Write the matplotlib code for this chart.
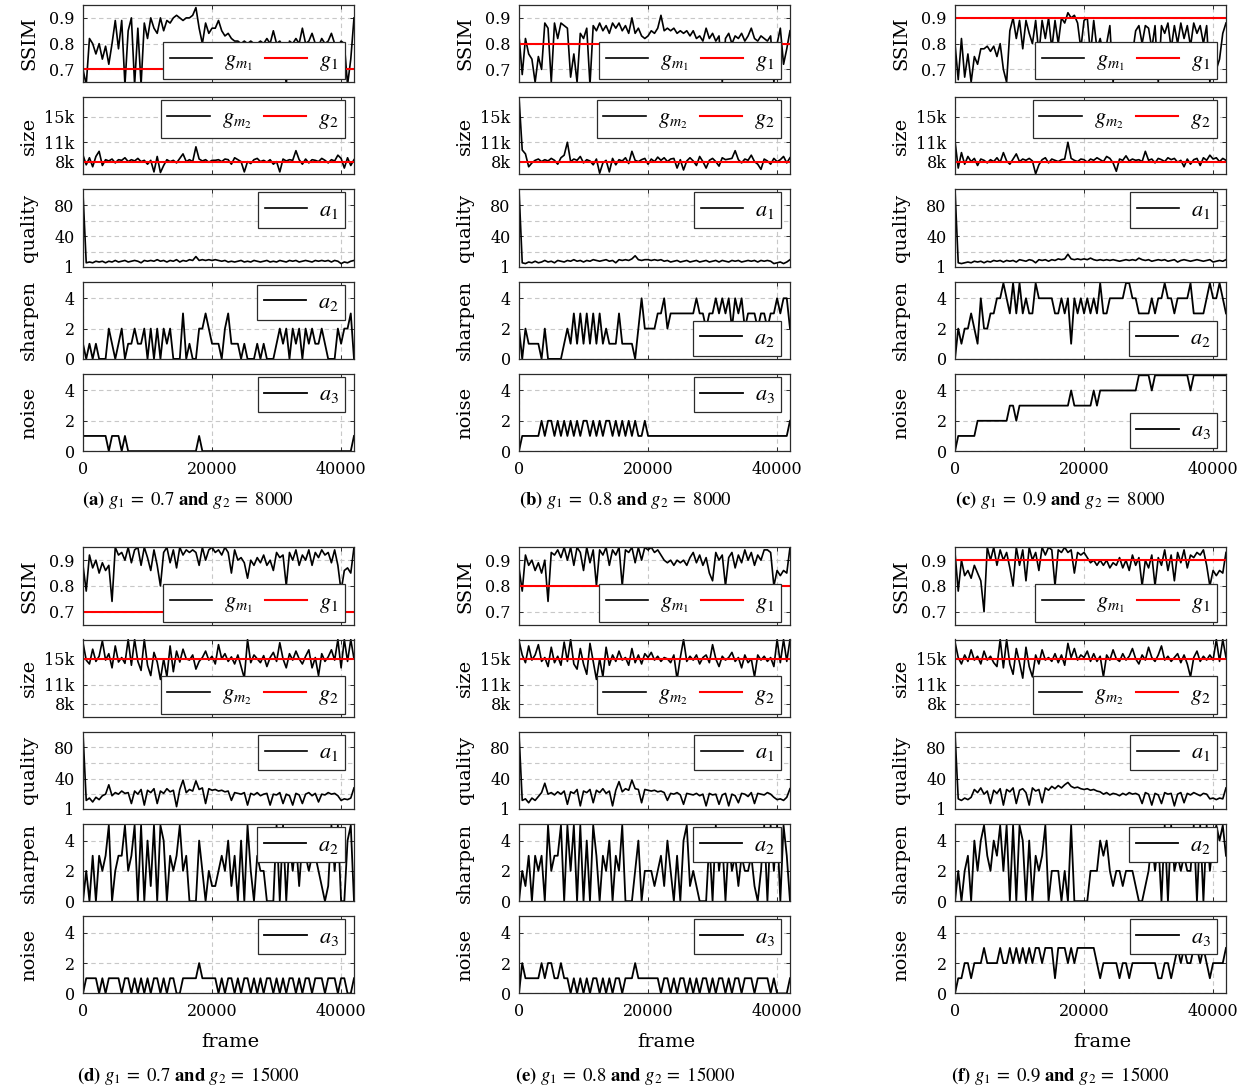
import numpy as np
import matplotlib
matplotlib.use("Agg")
import matplotlib.pyplot as plt

plt.rcParams['font.family'] = 'DejaVu Serif'
plt.rcParams['mathtext.fontset'] = 'stix'

# frame index of every sample (one sample every 500 frames)
FRAMES = np.arange(0, 42001, 500)

# ---- (a) g1 = 0.7, g2 = 8000 ----
A_SSIM = [0.70, 0.64, 0.82, 0.80, 0.76, 0.80, 0.74, 0.79, 0.72, 0.80,
          0.89, 0.78, 0.89, 0.64, 0.85, 0.90, 0.64, 0.86, 0.64, 0.88,
          0.82, 0.90, 0.86, 0.84, 0.90, 0.85, 0.89, 0.88, 0.90, 0.91,
          0.90, 0.89, 0.90, 0.90, 0.91, 0.94, 0.86, 0.80, 0.88, 0.84,
          0.86, 0.86, 0.89, 0.85, 0.83, 0.84, 0.82, 0.81, 0.81, 0.80,
          0.81, 0.80, 0.81, 0.80, 0.80, 0.81, 0.80, 0.82, 0.80, 0.85,
          0.80, 0.81, 0.79, 0.64, 0.81, 0.80, 0.82, 0.80, 0.86, 0.80,
          0.81, 0.84, 0.80, 0.79, 0.82, 0.80, 0.81, 0.84, 0.80, 0.79,
          0.81, 0.80, 0.64, 0.74, 0.90]
A_SIZE = [9.0, 7.5, 8.6, 7.2, 8.8, 9.6, 7.4, 8.3, 8.1, 8.4,
          7.8, 8.3, 8.2, 8.6, 8.0, 8.3, 8.1, 8.5, 8.0, 8.2,
          7.6, 8.2, 6.4, 8.8, 6.3, 7.4, 8.3, 8.0, 8.2, 7.8,
          8.5, 9.2, 8.0, 8.3, 8.0, 10.3, 8.4, 8.1, 8.3, 7.9,
          8.2, 8.2, 8.3, 8.0, 8.4, 8.3, 7.6, 8.6, 8.3, 8.0,
          6.4, 8.0, 7.7, 8.3, 8.5, 8.0, 8.2, 7.9, 8.3, 7.6,
          8.0, 6.4, 8.4, 8.1, 8.3, 8.2, 9.7, 8.3, 7.6, 8.4,
          7.8, 8.3, 8.2, 8.0, 8.5, 8.2, 7.8, 8.3, 8.1, 9.0,
          8.5, 7.0, 8.6, 7.4, 8.3]
A_QUALITY = [95, 6, 7, 6, 8, 7, 8, 6, 8, 7,
             9, 7, 8, 9, 7, 8, 9, 8, 6, 9,
             8, 9, 8, 10, 8, 9, 7, 9, 8, 10,
             7, 9, 8, 10, 9, 14, 9, 10, 9, 10,
             9, 10, 9, 8, 9, 7, 8, 7, 8, 9,
             7, 8, 7, 9, 8, 7, 8, 9, 7, 8,
             7, 9, 8, 7, 9, 8, 9, 7, 8, 9,
             8, 7, 9, 8, 9, 8, 9, 7, 9, 8,
             5, 7, 6, 8, 9]
A_SHARPEN = [1, 0, 1, 0, 1, 0, 0, 0, 2, 1,
             0, 1, 2, 0, 1, 1, 2, 1, 1, 2,
             0, 2, 0, 2, 0, 2, 1, 2, 0, 0,
             0, 3, 0, 1, 0, 0, 2, 2, 3, 2,
             1, 1, 1, 0, 2, 3, 1, 1, 1, 0,
             1, 0, 0, 0, 1, 0, 1, 0, 0, 0,
             1, 2, 1, 2, 0, 2, 1, 2, 0, 2,
             1, 2, 1, 1, 2, 1, 0, 0, 0, 2,
             1, 2, 2, 3, 0]
A_NOISE = [1, 1, 1, 1, 1, 1, 1, 1, 0, 1,
           1, 1, 0, 1, 0, 0, 0, 0, 0, 0,
           0, 0, 0, 0, 0, 0, 0, 0, 0, 0,
           0, 0, 0, 0, 0, 0, 1, 0, 0, 0,
           0, 0, 0, 0, 0, 0, 0, 0, 0, 0,
           0, 0, 0, 0, 0, 0, 0, 0, 0, 0,
           0, 0, 0, 0, 0, 0, 0, 0, 0, 0,
           0, 0, 0, 0, 0, 0, 0, 0, 0, 0,
           0, 0, 0, 0, 1]

# ---- (b) g1 = 0.8, g2 = 8000 ----
B_SSIM = [0.83, 0.68, 0.82, 0.76, 0.74, 0.65, 0.75, 0.70, 0.88, 0.86,
          0.65, 0.88, 0.82, 0.88, 0.87, 0.86, 0.67, 0.76, 0.65, 0.84,
          0.82, 0.86, 0.64, 0.87, 0.85, 0.88, 0.85, 0.87, 0.84, 0.88,
          0.86, 0.88, 0.85, 0.87, 0.84, 0.90, 0.84, 0.86, 0.83, 0.82,
          0.83, 0.85, 0.84, 0.86, 0.91, 0.85, 0.86, 0.85, 0.86, 0.84,
          0.85, 0.84, 0.85, 0.83, 0.85, 0.82, 0.83, 0.81, 0.86, 0.82,
          0.84, 0.81, 0.83, 0.65, 0.82, 0.84, 0.80, 0.83, 0.82, 0.84,
          0.81, 0.83, 0.86, 0.82, 0.81, 0.83, 0.82, 0.81, 0.83, 0.65,
          0.80, 0.86, 0.72, 0.78, 0.85]
B_SIZE = [18.0, 9.8, 9.2, 7.2, 7.8, 8.2, 8.4, 8.0, 8.3, 8.1,
          8.5, 8.2, 7.6, 8.6, 9.0, 11.0, 8.0, 8.4, 8.2, 8.8,
          7.8, 8.3, 8.1, 7.5, 8.4, 6.2, 7.8, 8.2, 6.4, 8.5,
          7.5, 8.3, 8.1, 8.6, 7.7, 9.6, 8.2, 8.0, 8.3, 8.5,
          7.6, 8.4, 8.0, 8.7, 8.2, 8.6, 8.0, 8.4, 8.5, 7.0,
          8.3, 6.7, 8.1, 8.6, 8.1, 7.4, 8.8, 8.0, 7.0, 8.2,
          8.5, 8.0, 7.3, 8.6, 8.3, 8.4, 8.5, 9.7, 8.3, 7.8,
          8.4, 8.2, 9.0, 8.0, 7.6, 6.8, 8.4, 8.1, 7.6, 8.5,
          8.0, 8.3, 8.8, 7.8, 8.6]
B_QUALITY = [100, 6, 5, 7, 6, 8, 6, 7, 9, 7,
             8, 6, 9, 8, 7, 9, 8, 10, 8, 9,
             7, 9, 8, 10, 9, 8, 9, 10, 8, 9,
             6, 10, 9, 10, 9, 11, 15, 10, 9, 10,
             10, 9, 10, 9, 10, 8, 9, 7, 8, 9,
             7, 8, 9, 7, 8, 9, 7, 8, 9, 7,
             8, 9, 7, 9, 8, 7, 9, 8, 9, 7,
             8, 9, 8, 9, 7, 9, 8, 9, 8, 5,
             6, 7, 5, 7, 10]
B_SHARPEN = [2, 0, 2, 1, 1, 1, 1, 0, 2, 0,
             0, 0, 0, 0, 1, 2, 1, 3, 1, 3,
             1, 3, 1, 3, 1, 3, 1, 2, 1, 1,
             1, 3, 1, 1, 1, 1, 0, 2, 4, 2,
             2, 2, 2, 3, 3, 4, 2, 3, 3, 3,
             3, 3, 3, 3, 3, 4, 3, 3, 2, 3,
             3, 4, 3, 4, 3, 4, 2, 4, 3, 4,
             2, 3, 3, 3, 2, 3, 3, 2, 3, 3,
             4, 3, 4, 4, 2]
B_NOISE = [0, 1, 1, 1, 1, 1, 1, 2, 1, 2,
           2, 1, 2, 1, 2, 1, 2, 1, 2, 1,
           2, 2, 1, 2, 1, 2, 1, 2, 2, 1,
           2, 1, 2, 1, 2, 1, 2, 1, 1, 2,
           1, 1, 1, 1, 1, 1, 1, 1, 1, 1,
           1, 1, 1, 1, 1, 1, 1, 1, 1, 1,
           1, 1, 1, 1, 1, 1, 1, 1, 1, 1,
           1, 1, 1, 1, 1, 1, 1, 1, 1, 1,
           1, 1, 1, 1, 2]

# ---- (c) g1 = 0.9, g2 = 8000 ----
C_SSIM = [0.80, 0.66, 0.82, 0.67, 0.76, 0.65, 0.75, 0.72, 0.78, 0.78,
          0.79, 0.77, 0.79, 0.75, 0.80, 0.70, 0.65, 0.85, 0.90, 0.82,
          0.89, 0.78, 0.89, 0.84, 0.80, 0.89, 0.76, 0.89, 0.82, 0.90,
          0.78, 0.89, 0.80, 0.90, 0.88, 0.92, 0.90, 0.91, 0.88, 0.78,
          0.89, 0.90, 0.76, 0.89, 0.78, 0.82, 0.76, 0.80, 0.87, 0.65,
          0.78, 0.74, 0.76, 0.75, 0.73, 0.76, 0.85, 0.87, 0.80, 0.87,
          0.86, 0.78, 0.87, 0.65, 0.87, 0.84, 0.88, 0.78, 0.87, 0.80,
          0.88, 0.82, 0.87, 0.79, 0.88, 0.84, 0.87, 0.80, 0.87, 0.65,
          0.80, 0.70, 0.74, 0.84, 0.88]
C_SIZE = [11.2, 7.0, 9.4, 7.6, 8.8, 8.0, 8.5, 7.4, 8.4, 8.2,
          7.8, 8.3, 8.0, 8.6, 7.9, 9.4, 8.1, 7.6, 8.4, 9.2,
          8.0, 8.4, 8.2, 8.5, 8.1, 6.1, 7.5, 8.3, 8.6, 7.8,
          8.4, 8.2, 8.0, 8.3, 8.4, 11.0, 8.5, 8.2, 8.0, 8.4,
          8.3, 7.9, 8.4, 8.2, 8.6, 8.3, 8.0, 8.8, 8.5, 7.8,
          6.5, 8.4, 8.2, 8.9, 8.1, 8.4, 8.2, 8.3, 8.0, 9.6,
          8.2, 8.4, 7.8, 8.5, 8.3, 8.0, 8.6, 8.3, 8.5, 7.9,
          8.2, 7.2, 8.4, 7.6, 8.3, 8.5, 7.4, 8.6, 8.2, 9.0,
          8.4, 8.6, 8.0, 8.5, 8.2]
C_QUALITY = [100, 6, 5, 6, 7, 6, 8, 7, 8, 6,
             8, 7, 9, 8, 9, 7, 9, 8, 9, 7,
             10, 9, 8, 10, 9, 6, 10, 9, 10, 8,
             10, 9, 11, 10, 11, 17, 11, 10, 11, 10,
             11, 10, 12, 10, 9, 10, 9, 10, 9, 10,
             9, 8, 9, 10, 9, 10, 9, 12, 10, 9,
             10, 8, 9, 10, 9, 10, 8, 9, 10, 7,
             9, 10, 9, 8, 9, 10, 9, 8, 9, 10,
             7, 8, 9, 8, 10]
C_SHARPEN = [0, 2, 1, 2, 2, 3, 2, 1, 4, 2,
             2, 3, 3, 4, 4, 5, 4, 3, 5, 3,
             5, 3, 4, 3, 3, 5, 4, 4, 4, 4,
             4, 3, 3, 4, 3, 4, 1, 4, 3, 4,
             3, 4, 3, 4, 3, 5, 3, 3, 4, 4,
             4, 4, 4, 5, 5, 4, 4, 3, 3, 3,
             3, 4, 3, 4, 4, 5, 4, 4, 3, 4,
             4, 4, 4, 5, 3, 3, 3, 3, 4, 5,
             4, 4, 5, 4, 3]
C_NOISE = [0, 1, 1, 1, 1, 1, 1, 2, 2, 2,
           2, 2, 2, 2, 2, 2, 2, 3, 3, 2,
           3, 3, 3, 3, 3, 3, 3, 3, 3, 3,
           3, 3, 3, 3, 3, 3, 4, 3, 3, 3,
           3, 3, 3, 4, 3, 4, 4, 4, 4, 4,
           4, 4, 4, 4, 4, 4, 4, 5, 5, 5,
           5, 4, 5, 5, 5, 5, 5, 5, 5, 5,
           5, 5, 5, 4, 5, 5, 5, 5, 5, 5,
           5, 5, 5, 5, 5]

# ---- (d) g1 = 0.7, g2 = 15000 ----
D_SSIM = [0.88, 0.78, 0.92, 0.87, 0.90, 0.85, 0.89, 0.86, 0.88, 0.74,
          0.95, 0.92, 0.93, 0.90, 0.95, 0.89, 0.94, 0.95, 0.88, 0.95,
          0.91, 0.86, 0.94, 0.88, 0.80, 0.93, 0.95, 0.89, 0.94, 0.87,
          0.95, 0.92, 0.94, 0.93, 0.94, 0.93, 0.88, 0.95, 0.90, 0.94,
          0.95, 0.93, 0.94, 0.92, 0.95, 0.93, 0.85, 0.94, 0.90, 0.91,
          0.89, 0.83, 0.90, 0.88, 0.91, 0.89, 0.92, 0.88, 0.90, 0.86,
          0.93, 0.91, 0.92, 0.80, 0.93, 0.90, 0.94, 0.88, 0.92, 0.90,
          0.94, 0.88, 0.93, 0.91, 0.94, 0.92, 0.93, 0.89, 0.94, 0.88,
          0.78, 0.86, 0.87, 0.85, 0.95]
D_SIZE = [17.5, 14.8, 14.2, 16.5, 14.6, 15.4, 17.8, 14.8, 15.8, 13.6,
          17.0, 14.5, 15.2, 14.3, 18.0, 14.0, 18.0, 14.6, 13.2, 18.0,
          14.0, 12.4, 16.0, 14.5, 11.8, 15.0, 12.2, 17.0, 13.0, 16.2,
          14.5, 16.5, 15.0, 14.8, 15.6, 13.4, 14.6, 15.2, 16.2, 14.8,
          15.4, 14.2, 17.2, 15.0, 15.8, 14.6, 15.3, 14.2, 15.6, 13.8,
          12.0, 18.0, 14.4, 15.6, 15.0, 14.4, 15.5, 13.8, 15.2, 16.0,
          14.6, 17.5, 15.0, 13.6, 15.8, 14.8, 16.2, 15.0, 14.2, 15.4,
          16.4, 13.6, 15.2, 12.4, 15.8, 14.6, 15.3, 16.4, 14.8, 18.0,
          13.6, 18.0, 14.6, 18.0, 15.0]
D_QUALITY = [98, 12, 15, 10, 16, 13, 18, 20, 32, 18,
             22, 20, 24, 21, 22, 8, 24, 20, 26, 6,
             25, 22, 27, 8, 24, 21, 27, 23, 25, 4,
             26, 38, 22, 26, 24, 37, 26, 28, 8, 27,
             25, 26, 24, 25, 23, 24, 12, 22, 21, 20,
             22, 6, 21, 19, 22, 18, 20, 21, 6, 20,
             19, 22, 8, 20, 18, 6, 21, 19, 8, 20,
             22, 18, 21, 10, 20, 19, 22, 20, 21, 18,
             12, 14, 13, 15, 28]
D_SHARPEN = [0, 2, 0, 3, 0, 3, 2, 3, 5, 0,
             2, 3, 3, 5, 2, 3, 5, 0, 5, 0,
             4, 1, 5, 0, 5, 4, 0, 3, 2, 3,
             5, 2, 3, 0, 0, 0, 4, 2, 0, 2,
             1, 1, 2, 3, 2, 4, 1, 3, 0, 4,
             0, 5, 2, 0, 3, 2, 2, 0, 0, 0,
             5, 0, 5, 0, 4, 2, 4, 1, 4, 3,
             2, 3, 3, 2, 1, 0, 1, 5, 2, 5,
             0, 0, 4, 5, 0]
D_NOISE = [0, 1, 1, 1, 1, 0, 1, 0, 1, 1,
           1, 1, 0, 1, 1, 0, 1, 0, 1, 0,
           1, 0, 1, 1, 0, 1, 0, 1, 1, 0,
           0, 1, 1, 1, 1, 1, 2, 1, 1, 1,
           1, 1, 0, 1, 0, 1, 1, 0, 1, 0,
           1, 1, 0, 1, 0, 1, 0, 1, 1, 0,
           1, 0, 1, 0, 1, 1, 0, 1, 0, 1,
           1, 0, 1, 1, 1, 0, 1, 1, 1, 0,
           1, 1, 0, 0, 1]

# ---- (e) g1 = 0.8, g2 = 15000 ----
E_SSIM = [0.87, 0.78, 0.92, 0.88, 0.90, 0.86, 0.89, 0.85, 0.90, 0.74,
          0.93, 0.92, 0.94, 0.91, 0.95, 0.90, 0.95, 0.88, 0.95, 0.93,
          0.86, 0.95, 0.89, 0.94, 0.80, 0.94, 0.92, 0.95, 0.88, 0.94,
          0.92, 0.95, 0.80, 0.94, 0.93, 0.95, 0.89, 0.95, 0.90, 0.95,
          0.94, 0.95, 0.93, 0.94, 0.92, 0.90, 0.89, 0.90, 0.88, 0.90,
          0.89, 0.90, 0.88, 0.91, 0.93, 0.89, 0.92, 0.88, 0.91, 0.85,
          0.82, 0.93, 0.90, 0.92, 0.80, 0.91, 0.93, 0.87, 0.92, 0.89,
          0.94, 0.90, 0.93, 0.88, 0.92, 0.90, 0.94, 0.94, 0.93, 0.80,
          0.86, 0.84, 0.86, 0.85, 0.95]
E_SIZE = [17.8, 15.6, 14.4, 17.0, 14.8, 15.6, 17.2, 14.6, 15.2, 13.8,
          16.8, 14.4, 15.4, 14.0, 17.6, 14.6, 18.0, 14.2, 13.4, 16.6,
          14.2, 12.6, 17.4, 14.6, 11.8, 15.0, 12.2, 16.8, 14.0, 15.6,
          14.6, 16.2, 14.8, 15.2, 14.0, 16.6, 14.4, 15.6, 14.2, 15.8,
          15.2, 16.0, 14.8, 15.4, 14.6, 15.2, 15.0, 14.4, 15.6, 11.8,
          15.2, 18.0, 14.6, 15.4, 14.8, 15.6, 14.2, 15.2, 15.6, 14.4,
          17.2, 15.0, 13.8, 15.4, 14.8, 15.2, 16.0, 14.6, 15.2, 13.6,
          15.6, 14.4, 15.0, 12.2, 15.6, 14.8, 15.4, 14.6, 15.2, 13.8,
          18.0, 14.4, 18.0, 14.6, 18.0]
E_QUALITY = [98, 12, 14, 9, 15, 12, 17, 22, 34, 20,
             22, 19, 23, 20, 24, 7, 23, 21, 26, 5,
             24, 22, 26, 9, 25, 22, 27, 21, 24, 5,
             25, 36, 23, 27, 25, 38, 27, 26, 9, 26,
             25, 24, 25, 23, 24, 22, 12, 21, 20, 22,
             19, 7, 21, 20, 19, 21, 18, 20, 5, 21,
             19, 20, 7, 19, 21, 5, 20, 18, 9, 21,
             20, 17, 22, 8, 21, 20, 19, 22, 20, 16,
             13, 14, 12, 16, 27]
E_SHARPEN = [0, 2, 1, 3, 0, 3, 2, 3, 0, 5,
             2, 3, 3, 5, 0, 5, 2, 5, 0, 5,
             0, 4, 0, 5, 3, 0, 3, 2, 4, 0,
             3, 2, 5, 0, 0, 0, 2, 4, 0, 2,
             2, 2, 1, 2, 3, 1, 4, 2, 0, 3,
             0, 4, 5, 1, 2, 1, 0, 0, 0, 4,
             0, 5, 2, 4, 0, 4, 2, 3, 1, 3,
             2, 2, 3, 1, 0, 2, 5, 0, 5, 2,
             5, 0, 5, 3, 0]
E_NOISE = [0, 2, 1, 1, 1, 1, 1, 2, 1, 2,
           2, 1, 1, 2, 1, 1, 0, 1, 0, 1,
           0, 1, 0, 1, 1, 0, 1, 0, 1, 0,
           1, 1, 0, 1, 1, 1, 2, 1, 1, 1,
           1, 1, 1, 1, 0, 1, 1, 0, 1, 0,
           1, 1, 0, 1, 0, 1, 0, 1, 1, 0,
           1, 0, 1, 1, 0, 1, 0, 1, 1, 0,
           1, 1, 1, 0, 1, 1, 1, 1, 0, 1,
           0, 0, 0, 0, 1]

# ---- (f) g1 = 0.9, g2 = 15000 ----
F_SSIM = [0.93, 0.78, 0.90, 0.84, 0.86, 0.83, 0.88, 0.85, 0.82, 0.70,
          0.95, 0.90, 0.95, 0.88, 0.94, 0.90, 0.93, 0.87, 0.80, 0.95,
          0.88, 0.94, 0.82, 0.95, 0.90, 0.93, 0.86, 0.95, 0.92, 0.95,
          0.94, 0.80, 0.94, 0.93, 0.95, 0.93, 0.94, 0.85, 0.93, 0.92,
          0.93, 0.91, 0.89, 0.90, 0.88, 0.90, 0.88, 0.90, 0.87, 0.89,
          0.88, 0.91, 0.87, 0.90, 0.86, 0.92, 0.88, 0.91, 0.80, 0.90,
          0.87, 0.92, 0.80, 0.91, 0.88, 0.94, 0.86, 0.92, 0.82, 0.93,
          0.89, 0.94, 0.87, 0.92, 0.91, 0.93, 0.92, 0.94, 0.88, 0.80,
          0.86, 0.84, 0.86, 0.85, 0.93]
F_SIZE = [17.6, 15.2, 14.2, 15.6, 14.6, 16.4, 14.8, 15.4, 14.2, 16.2,
          14.8, 15.4, 14.4, 13.8, 18.0, 13.6, 18.0, 14.2, 12.6, 16.6,
          14.4, 12.0, 16.8, 13.8, 12.2, 15.6, 14.2, 16.4, 14.8, 15.2,
          14.6, 15.8, 14.4, 15.6, 14.0, 17.4, 15.2, 16.6, 14.8, 15.6,
          15.2, 16.2, 14.6, 15.8, 14.6, 15.4, 12.2, 15.6, 14.8, 16.4,
          15.0, 14.6, 15.8, 14.8, 15.4, 16.6, 15.0, 14.2, 15.6, 14.8,
          16.8, 15.2, 14.6, 15.6, 17.0, 14.8, 15.4, 14.6, 15.2, 15.8,
          14.4, 15.6, 14.2, 12.2, 15.2, 16.2, 14.6, 15.4, 14.8, 15.6,
          14.8, 18.0, 14.6, 18.0, 15.2]
F_QUALITY = [98, 14, 12, 15, 13, 16, 26, 22, 28, 20,
             24, 8, 25, 21, 27, 6, 26, 23, 28, 8,
             25, 27, 22, 6, 28, 24, 26, 9, 28, 25,
             30, 27, 31, 28, 32, 35, 30, 28, 29, 27,
             26, 27, 25, 26, 24, 23, 20, 22, 19, 21,
             20, 18, 21, 19, 22, 20, 21, 19, 8, 22,
             20, 6, 21, 19, 8, 22, 20, 21, 5, 20,
             22, 9, 21, 19, 22, 20, 18, 21, 20, 14,
             15, 13, 15, 14, 28]
F_SHARPEN = [0, 2, 0, 2, 3, 0, 4, 2, 4, 5,
             3, 2, 4, 3, 5, 2, 5, 0, 5, 0,
             5, 4, 0, 4, 0, 3, 2, 3, 5, 0,
             2, 2, 2, 0, 2, 0, 5, 0, 0, 0,
             0, 0, 2, 2, 2, 4, 3, 4, 2, 1,
             2, 2, 1, 2, 2, 2, 1, 0, 0, 1,
             2, 4, 2, 4, 0, 5, 0, 5, 2, 3,
             2, 3, 2, 2, 5, 0, 5, 0, 5, 2,
             4, 5, 4, 5, 3]
F_NOISE = [0, 1, 1, 2, 2, 1, 2, 2, 2, 3,
           2, 2, 2, 2, 3, 2, 2, 3, 2, 3,
           2, 3, 2, 3, 2, 3, 3, 2, 3, 3,
           3, 1, 3, 3, 3, 2, 3, 2, 3, 3,
           3, 3, 3, 3, 2, 1, 2, 2, 2, 2,
           2, 1, 2, 2, 1, 2, 2, 2, 2, 2,
           2, 2, 2, 1, 1, 2, 2, 1, 2, 3,
           2, 3, 2, 2, 3, 3, 2, 3, 2, 1,
           2, 2, 2, 2, 3]

# targets and captions for the six sub-figures
PANEL_TAGS = ["a", "b", "c", "d", "e", "f"]
G1_TARGETS = [0.7, 0.8, 0.9, 0.7, 0.8, 0.9]
G2_TARGETS = [8000, 8000, 8000, 15000, 15000, 15000]

SSIM_RUNS = [A_SSIM, B_SSIM, C_SSIM, D_SSIM, E_SSIM, F_SSIM]
SIZE_RUNS = [A_SIZE, B_SIZE, C_SIZE, D_SIZE, E_SIZE, F_SIZE]
QUALITY_RUNS = [A_QUALITY, B_QUALITY, C_QUALITY, D_QUALITY, E_QUALITY, F_QUALITY]
SHARPEN_RUNS = [A_SHARPEN, B_SHARPEN, C_SHARPEN, D_SHARPEN, E_SHARPEN, F_SHARPEN]
NOISE_RUNS = [A_NOISE, B_NOISE, C_NOISE, D_NOISE, E_NOISE, F_NOISE]

# legend corner of each of the 5 rows, per sub-figure
LEGEND_LOCS = [
    ["lower right", "upper right", "upper right", "upper right", "upper right"],
    ["lower right", "upper right", "upper right", "lower right", "upper right"],
    ["lower right", "upper right", "upper right", "lower right", "lower right"],
    ["lower right", "lower right", "upper right", "upper right", "upper right"],
    ["lower right", "lower right", "upper right", "upper right", "upper right"],
    ["lower right", "lower right", "upper right", "upper right", "upper right"],
]

# layout in pixels of the 1250x1091 canvas
FIG_W, FIG_H = 1250, 1091
COL_LEFT = [83, 519, 955]
CAPTION_X = [188, 625, 1060]
AX_W = 271
AX_H = 77.3
ROW_TOP = [5, 547.3]
ROW_STEP = 92.2

LINE_BLACK = "black"
LINE_RED = "#ff0000"
EDGE = "#2b2b2b"
GRID = "#c8c8c8"


def pixel_rect(left, top, width, height):
    """Convert a pixel box (top-left origin) into a figure-fraction rect."""
    return [left / FIG_W, 1 - (top + height) / FIG_H, width / FIG_W, height / FIG_H]


def style_axis(ax, ylabel, show_xticks):
    ax.set_xlim(0, 42000)
    ax.set_xticks([0, 20000, 40000])
    ax.grid(True, color=GRID, linestyle=(0, (4, 3)), linewidth=0.8)
    ax.set_axisbelow(True)
    for spine in ax.spines.values():
        spine.set_color(EDGE)
        spine.set_linewidth(0.9)
    ax.tick_params(direction="in", length=3, width=0.7, color=EDGE,
                   top=True, right=True, labelsize=11.5, pad=6)
    if not show_xticks:
        ax.tick_params(labelbottom=False)
    ax.set_ylabel(ylabel, fontsize=14)
    ax.yaxis.set_label_coords(-0.165, 0.5)


def add_legend(ax, loc, ncol):
    if loc.startswith("lower"):
        anchor = (1 - 8.6 / AX_W, 3 / AX_H)
    else:
        anchor = (1 - 8.6 / AX_W, 1 - 3 / AX_H)
    leg = ax.legend(loc=loc, bbox_to_anchor=anchor, borderaxespad=0, ncol=ncol,
                    fontsize=16, frameon=True, fancybox=False, framealpha=1,
                    edgecolor=EDGE, handlelength=1.9, handletextpad=0.55,
                    columnspacing=0.55, borderpad=0.3)
    leg.get_frame().set_linewidth(0.9)
    leg.set_zorder(10)


def draw_panel(fig, idx):
    col = idx % 3
    row = idx // 3
    left = COL_LEFT[col]
    locs = LEGEND_LOCS[idx]
    axes = []
    for k in range(5):
        top = ROW_TOP[row] + k * ROW_STEP
        axes.append(fig.add_axes(pixel_rect(left, top, AX_W, AX_H)))

    # SSIM vs target g1
    ax = axes[0]
    style_axis(ax, "SSIM", False)
    ax.plot(FRAMES, SSIM_RUNS[idx], color=LINE_BLACK, lw=1.2, label=r"$g_{m_1}$")
    ax.axhline(G1_TARGETS[idx], color=LINE_RED, lw=1.5, label=r"$g_1$")
    ax.set_ylim(0.65, 0.95)
    ax.set_yticks([0.7, 0.8, 0.9])
    add_legend(ax, locs[0], 2)

    # encoded size vs target g2
    ax = axes[1]
    style_axis(ax, "size", False)
    ax.plot(FRAMES, np.array(SIZE_RUNS[idx]) * 1000, color=LINE_BLACK, lw=1.2,
            label=r"$g_{m_2}$")
    ax.axhline(G2_TARGETS[idx], color=LINE_RED, lw=1.5, label=r"$g_2$")
    ax.set_ylim(6000, 18000)
    ax.set_yticks([8000, 11000, 15000])
    ax.set_yticklabels(["8k", "11k", "15k"])
    add_legend(ax, locs[1], 2)

    # knob a1: quality
    ax = axes[2]
    style_axis(ax, "quality", False)
    ax.plot(FRAMES, QUALITY_RUNS[idx], color=LINE_BLACK, lw=1.2, label=r"$a_1$")
    ax.set_ylim(1, 100)
    ax.set_yticks([1, 40, 80])
    ax.set_yticks([20, 60], minor=True)
    ax.tick_params(which="minor", length=0)
    ax.grid(True, which="minor", color=GRID, linestyle=(0, (4, 3)), linewidth=0.8)
    add_legend(ax, locs[2], 1)

    # knob a2: sharpen
    ax = axes[3]
    style_axis(ax, "sharpen", False)
    ax.plot(FRAMES, SHARPEN_RUNS[idx], color=LINE_BLACK, lw=1.3, label=r"$a_2$")
    ax.set_ylim(0, 5.1)
    ax.set_yticks([0, 2, 4])
    add_legend(ax, locs[3], 1)

    # knob a3: noise
    ax = axes[4]
    style_axis(ax, "noise", True)
    ax.plot(FRAMES, NOISE_RUNS[idx], color=LINE_BLACK, lw=1.3, label=r"$a_3$")
    ax.set_ylim(0, 5.1)
    ax.set_yticks([0, 2, 4])
    ax.tick_params(axis="x", pad=7)
    add_legend(ax, locs[4], 1)

    if row == 1:
        fig.text((left + 147) / FIG_W, 1 - 1042 / FIG_H, "frame",
                 ha="center", va="center", fontsize=14)
        cap_y = 1076
    else:
        cap_y = 500
    caption = (r"$\mathbf{(%s)}\ g_1{\,}{=}{\ }%s\ \mathbf{and}\ g_2{\,}{=}{\ }%d$"
               % (PANEL_TAGS[idx], G1_TARGETS[idx], G2_TARGETS[idx]))
    fig.text(CAPTION_X[col] / FIG_W, 1 - cap_y / FIG_H, caption,
             ha="center", va="center", fontsize=13.5)


def main():
    fig = plt.figure(figsize=(FIG_W / 100, FIG_H / 100), dpi=100)
    for idx in range(6):
        draw_panel(fig, idx)
    fig.savefig("out.png", dpi=100)


if __name__ == "__main__":
    main()
